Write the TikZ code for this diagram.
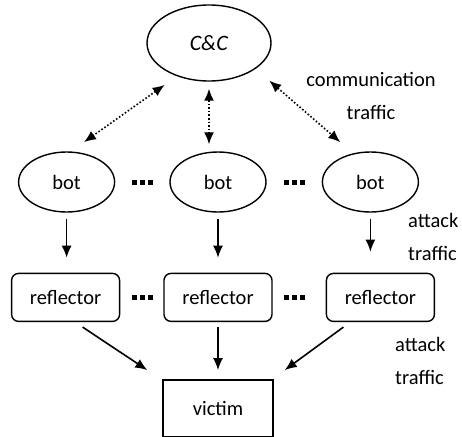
\documentclass[tikz,border=0pt]{standalone}
\usepackage{fontspec}
\setmainfont{Carlito}
\usetikzlibrary{positioning,shapes.geometric,arrows.meta}

\newcommand{\botdots}{\rule{5pt}{5pt}\hspace{3pt}\rule{5pt}{5pt}\hspace{3pt}\rule{5pt}{5pt}}

\tikzset{
  ccnode/.style={ellipse, draw, line width=1.4pt, minimum width=124pt, minimum height=76pt, inner sep=0pt},
  bot/.style={ellipse, draw, line width=1.4pt, minimum width=96pt, minimum height=60pt, inner sep=0pt},
  refl/.style={rectangle, rounded corners=7pt, draw, line width=1.4pt, minimum width=108pt, minimum height=48pt},
  victimbox/.style={rectangle, draw, line width=1.4pt, minimum width=110pt, minimum height=57pt},
  attack/.style={-{Latex[length=12pt,width=10pt]}, line width=1.6pt},
  comm/.style={{Latex[length=12pt,width=10pt]}-{Latex[length=12pt,width=10pt]}, dotted, line width=1.6pt},
  lbl/.style={font=\fontsize{20.5}{33}\selectfont, inner sep=0pt},
}

\begin{document}
\begin{tikzpicture}[x=1pt, y=-1pt, font=\fontsize{20.5}{24}\selectfont]
  \useasboundingbox (0,0) rectangle (462,436);

  % ── Row 0: command and control ───────────────────────────────
  \node[ccnode]                      (cc)    at (209,43) {\fontsize{22}{24}\selectfont\textit{C\&C}};

  % ── Row 1: bots ──────────────────────────────────────────────
  \node[bot]                         (bot2)  at (218,182) {bot};
  \node[bot, left=54pt of bot2]      (bot1)  {bot};
  \node[bot, right=55pt of bot2]     (bot3)  {bot};
  \path (bot1) -- (bot2) node[midway] (d1) {\botdots};
  \path (bot2) -- (bot3) node[midway] (d2) {\botdots};

  % ── Row 2: reflectors ────────────────────────────────────────
  \node[refl, below=60pt of bot2]    (refl2) {reflector};
  \node[refl, left=43pt of refl2]    (refl1) {reflector};
  \node[refl, right=53pt of refl2]   (refl3) {reflector};
  \node (d3) at (d1 |- refl2) {\botdots};
  \node (d4) at (d2 |- refl2) {\botdots};

  % ── Row 3: target ────────────────────────────────────────────
  \node[victimbox, below=57pt of refl2] (victim) {victim};

  % ── Labels ───────────────────────────────────────────────────
  \node[lbl, align=center]           (commlbl) at (371,96)  {communication\\traffic};
  \node[lbl, align=left, anchor=west] (atk1)   at (408,237) {attack\\traffic};
  \node[lbl, align=left, anchor=west] (atk2)   at (395,361) {attack\\traffic};

  % ── Dotted edges (communication traffic) ─────────────────────
  \draw[comm, shorten <=15pt, shorten >=16pt] (cc.226) -- (bot1.82);
  \draw[comm, shorten <=7pt, shorten >=7pt] (cc.south) -- (cc.south |- bot2.north);
  \draw[comm, shorten <=18pt, shorten >=17pt] (cc.331) -- (bot3.121);

  % ── Solid edges (attack traffic) ─────────────────────────────
  % bots -> reflectors
  \draw[attack, shorten <=6pt, shorten >=15pt] (bot1) -- (bot1 |- refl1.north);
  \draw[attack, shorten <=6pt, shorten >=15pt] (bot2) -- (bot2 |- refl2.north);
  \draw[attack, shorten <=6pt, shorten >=21pt] (bot3) -- (bot3 |- refl3.north);

  % reflectors -> victim
  \draw[attack] ([xshift=17pt,yshift=-5pt]refl1.south) -- ([xshift=-15pt,yshift=9pt]victim.north west);
  \draw[attack, shorten <=5pt, shorten >=9pt] (refl2) -- (victim);
  \draw[attack] ([xshift=-37pt,yshift=-5pt]refl3.south) -- ([xshift=11pt,yshift=9pt]victim.north east);

\end{tikzpicture}
\end{document}
